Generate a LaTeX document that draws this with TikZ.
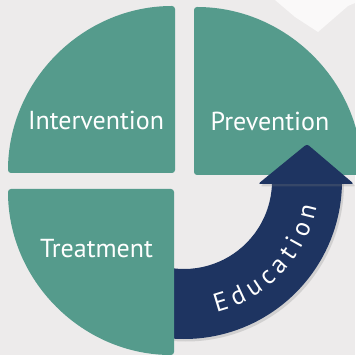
\documentclass[tikz,border=0pt]{standalone}
\usepackage{fontspec}
\newfontfamily\labfont{PT Sans}
\usetikzlibrary{shadows,decorations.text}
\definecolor{bgc}{HTML}{EDEBEB}
\definecolor{teal1}{HTML}{559B8C}
\definecolor{navy1}{HTML}{1E3461}
\begin{document}
\begin{tikzpicture}[x=1pt,y=1pt,
  quad/.style={fill=teal1, rounded corners=3pt},
  arrowpart/.style={fill=navy1, drop shadow={opacity=0.25, shadow xshift=2pt, shadow yshift=-2.5pt}},
  lab/.style={text=white, font=\labfont\fontsize{26}{26}\selectfont, anchor=base, inner sep=0pt}]
\fill[bgc] (0,0) rectangle (355,355);
\useasboundingbox (0,0) rectangle (355,355);
\fill[white!70!bgc] (275,355) -- (295,338) -- (318,323) -- (348,349) -- (355,352) -- (355,355) -- cycle;
% quadrants
\fill[quad] (175,182) -- (8,182) arc[start angle=180,end angle=90,radius=167] -- cycle;
\fill[quad] (194,180) -- (194,348) arc[start angle=90,end angle=0,radius=168] -- cycle;
% education arrow
\coordinate (ac) at (184,174);
\path[arrowpart] ([shift={(-97:88)}]ac) arc[start angle=-97,end angle=0,radius=88]
  -- ([shift={(0:158)}]ac) arc[start angle=0,end angle=-97,radius=158] -- cycle;
\path[arrowpart, rounded corners=2.5pt] (258,171) -- (307,211) -- (354,171) -- cycle;
\path[decorate, decoration={text along path, text align=fit to path,
   text={|\labfont\fontsize{26}{26}\selectfont\color{white}|Education}}]
  ([shift={(-76:135)}]ac) arc[start angle=-76,end angle=-11,radius=135];
% bottom-left quadrant (covers arrow tail)
\fill[quad] (174,166) -- (8,166) arc[start angle=180,end angle=270,radius=166] -- cycle;
% labels
\node[lab] (int) at (96,225) {Intervention};
\node[lab] (prev) at (270,224) {Prevention};
\node[lab] (treat) at (96.5,97.5) {Treatment};
\end{tikzpicture}
\end{document}
